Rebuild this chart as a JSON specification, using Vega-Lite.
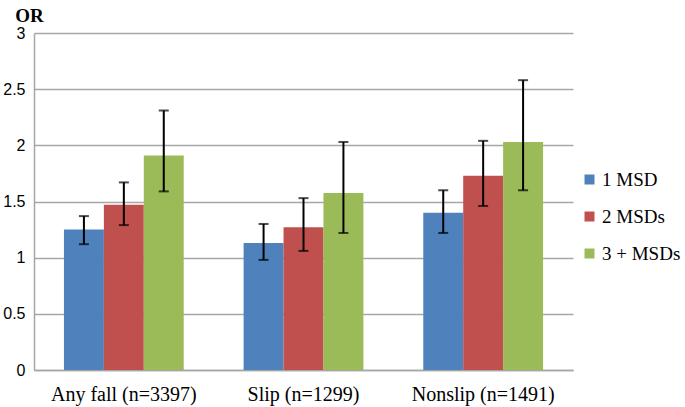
{
  "$schema": "https://vega.github.io/schema/vega-lite/v6.json",
  "autosize": {"type": "none"},
  "width": 539,
  "height": 337,
  "padding": {"left": 34, "top": 33, "right": 112, "bottom": 37},
  "background": "white",
  "data": {
    "values": [
      {"group": "Any fall (n=3397)", "series": "1 MSD", "or": 1.25, "lo": 1.12, "hi": 1.37},
      {"group": "Any fall (n=3397)", "series": "2 MSDs", "or": 1.47, "lo": 1.29, "hi": 1.67},
      {"group": "Any fall (n=3397)", "series": "3 + MSDs", "or": 1.91, "lo": 1.59, "hi": 2.31},
      {"group": "Slip (n=1299)", "series": "1 MSD", "or": 1.13, "lo": 0.98, "hi": 1.30},
      {"group": "Slip (n=1299)", "series": "2 MSDs", "or": 1.27, "lo": 1.06, "hi": 1.53},
      {"group": "Slip (n=1299)", "series": "3 + MSDs", "or": 1.575, "lo": 1.22, "hi": 2.03},
      {"group": "Nonslip (n=1491)", "series": "1 MSD", "or": 1.40, "lo": 1.22, "hi": 1.60},
      {"group": "Nonslip (n=1491)", "series": "2 MSDs", "or": 1.73, "lo": 1.46, "hi": 2.04},
      {"group": "Nonslip (n=1491)", "series": "3 + MSDs", "or": 2.03, "lo": 1.60, "hi": 2.58}
    ]
  },
  "encoding": {
    "x": {
      "field": "group", "type": "nominal",
      "sort": ["Any fall (n=3397)", "Slip (n=1299)", "Nonslip (n=1491)"],
      "scale": {"paddingInner": 0.3333, "paddingOuter": 0.1667},
      "axis": {
        "title": null, "labelAngle": 0, "ticks": false,
        "domainColor": "#A6A6A6", "domainWidth": 1.5,
        "labelFont": "Liberation Serif", "labelFontSize": 20, "labelColor": "black",
        "labelPadding": 14
      }
    },
    "xOffset": {
      "field": "series", "type": "nominal",
      "sort": ["1 MSD", "2 MSDs", "3 + MSDs"],
      "scale": {"paddingInner": 0, "paddingOuter": 0}
    }
  },
  "layer": [
    {
      "mark": {"type": "bar"},
      "encoding": {
        "y": {
          "field": "or", "type": "quantitative",
          "scale": {"domain": [0, 3]},
          "axis": {
            "values": [0, 0.5, 1, 1.5, 2, 2.5, 3], "format": ".1~f",
            "ticks": false, "grid": true, "gridColor": "#A6A6A6", "gridWidth": 1.5,
            "domainColor": "#A6A6A6", "domainWidth": 1.5,
            "labelFont": "Liberation Sans", "labelFontSize": 16, "labelColor": "black",
            "labelPadding": 9,
            "title": "OR", "titleAngle": 0, "titleFont": "Liberation Serif",
            "titleFontSize": 19, "titleFontWeight": "bold", "titleColor": "black",
            "titleX": -5, "titleY": -12, "titleAlign": "center", "titleBaseline": "alphabetic"
          }
        },
        "color": {
          "field": "series", "type": "nominal",
          "sort": ["1 MSD", "2 MSDs", "3 + MSDs"],
          "scale": {"domain": ["1 MSD", "2 MSDs", "3 + MSDs"], "range": ["#4F81BD", "#C0504D", "#9BBB59"]},
          "legend": {
            "title": null, "orient": "none", "legendX": 546, "legendY": 137,
            "symbolType": "square", "symbolSize": 100, "symbolStrokeWidth": 0,
            "labelFont": "Liberation Serif", "labelFontSize": 19, "labelColor": "black",
            "rowPadding": 17, "labelOffset": 3, "labelLimit": 200
          }
        }
      }
    },
    {
      "mark": {"type": "rule", "color": "black", "strokeWidth": 2},
      "encoding": {
        "y": {"field": "lo", "type": "quantitative"},
        "y2": {"field": "hi"}
      }
    },
    {
      "mark": {"type": "tick", "color": "black", "thickness": 2, "size": 10},
      "encoding": {"y": {"field": "lo", "type": "quantitative"}}
    },
    {
      "mark": {"type": "tick", "color": "black", "thickness": 2, "size": 10},
      "encoding": {"y": {"field": "hi", "type": "quantitative"}}
    }
  ],
  "config": {
    "font": "Liberation Serif",
    "view": {"stroke": null},
    "legend": {"labelFont": "Liberation Serif"}
  }
}
